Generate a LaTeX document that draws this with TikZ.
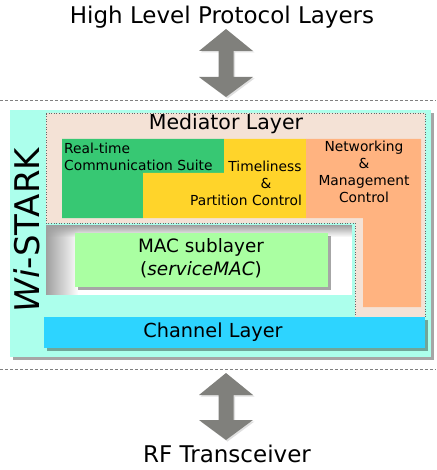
\documentclass[tikz,border=0pt]{standalone}
\usepackage{fontspec}
\setmainfont{DejaVu Sans}
\usetikzlibrary{shadows,fadings}
\definecolor{wicyan}{RGB}{172,255,236}
\definecolor{medbeige}{RGB}{244,226,214}
\definecolor{rtgreen}{RGB}{55,200,115}
\definecolor{tyellow}{RGB}{255,212,42}
\definecolor{norange}{RGB}{255,179,128}
\definecolor{macgreen}{RGB}{170,255,162}
\definecolor{chblue}{RGB}{45,212,255}
\definecolor{arrowgrey}{RGB}{128,128,124}
\tikzfading[name=myfaderight, left color=transparent!0, right color=transparent!100]
\tikzfading[name=myfadedown, top color=transparent!0, bottom color=transparent!100]
\tikzset{
  bigtext/.style={font=\fontsize{23}{27}\selectfont, inner sep=0pt},
  smalltext/.style={font=\fontsize{13.8}{17}\selectfont, inner sep=0pt},
  sep/.style={draw=gray, line width=1pt, dash pattern=on 3pt off 2pt},
  boxshadow/.style={drop shadow={shadow xshift=3pt, shadow yshift=-3pt, opacity=0.35, fill=black}},
  bigarrow/.style={fill=arrowgrey, drop shadow={shadow xshift=1.5pt, shadow yshift=-1.5pt, opacity=0.25}},
}
\begin{document}
\begin{tikzpicture}[x=1pt,y=-1pt]
\useasboundingbox (0,0) rectangle (436,470);

% end texts
\node[bigtext] (hl) at (222,17) {High Level Protocol Layers};
\node[bigtext] (rf) at (227,454) {RF Transceiver};

% big double arrows
\fill[bigarrow] (226,29) -- (253,51) -- (233.5,51) -- (233.5,77) -- (253,77) -- (226,97)
  -- (199,77) -- (218.5,77) -- (218.5,51) -- (199,51) -- cycle;
\fill[bigarrow] (226,373) -- (253,395) -- (233.5,395) -- (233.5,420) -- (253,420) -- (226,440)
  -- (199,420) -- (218.5,420) -- (218.5,395) -- (199,395) -- cycle;

% separators
\coordinate (s1l) at (0,101); \coordinate (s1r) at (436,101);
\coordinate (s2l) at (0,369); \coordinate (s2r) at (436,369);
\draw[sep] (s1l) -- (s1r);
\draw[sep] (s2l) -- (s2r);

% Wi-STARK container
\fill[wicyan, boxshadow] (10,110) rectangle (431,357);
\node[rotate=90, font=\fontsize{34}{36}\selectfont, inner sep=0pt] (wi) at (27,230) {\textit{Wi}-STARK};

% Mediator layer (L shape)
\filldraw[fill=medbeige, draw=gray!80!black, line width=0.6pt, dotted]
  (46,113) -- (425,113) -- (425,317) -- (355,317) -- (355,223) -- (46,223) -- cycle;
\node[font=\fontsize{20.5}{24}\selectfont, inner sep=0pt] (med) at (226,124) {Mediator Layer};

% green, yellow, orange blocks
\fill[rtgreen] (62,139) -- (224,139) -- (224,173) -- (143,173) -- (143,218) -- (62,218) -- cycle;
\fill[tyellow] (224,139) -- (306,139) -- (306,218) -- (143,218) -- (143,173) -- (224,173) -- cycle;
\fill[norange] (306,139) -- (421,139) -- (421,307) -- (363,307) -- (363,218) -- (306,218) -- cycle;

\node[smalltext, anchor=west] (rt1) at (64,148) {Real-time};
\node[smalltext, anchor=west] (rt2) at (64,165) {Communication Suite};
\node[smalltext] (tp1) at (265,166) {Timeliness};
\node[smalltext] (tp2) at (266,183) {\&};
\node[smalltext] (tp3) at (246,200) {Partition Control};
\node[smalltext, align=center] (nm) at (364,172) {Networking\\\&\\Management\\Control};

% MAC container with inner shadow
\fill[white] (46,225) rectangle (352,295);
\fill[gray!75, path fading=myfadedown] (46,225) rectangle (352,237);
\fill[gray!75, path fading=myfaderight] (46,225) rectangle (78,295);

% MAC sublayer
\fill[macgreen, boxshadow] (75,233) rectangle (328,287);
\node[font=\fontsize{18.4}{23}\selectfont, inner sep=0pt, align=center] (mac) at (201,258)
  {MAC sublayer\\(\textit{serviceMAC})};

% Channel layer
\fill[chblue, boxshadow] (44,317) rectangle (425,348);
\node[font=\fontsize{19.3}{23}\selectfont, inner sep=0pt] (ch) at (213,332) {Channel Layer};
\end{tikzpicture}
\end{document}
